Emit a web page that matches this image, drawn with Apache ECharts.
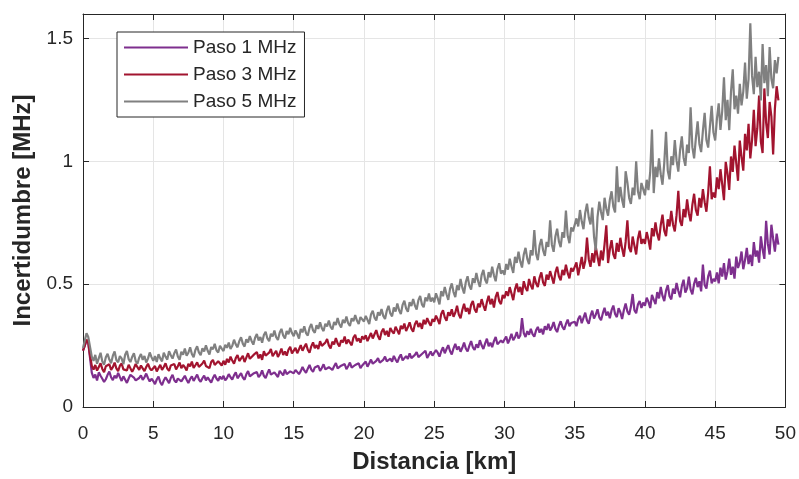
<!DOCTYPE html>
<html>
<head>
<meta charset="utf-8">
<script src="https://cdn.jsdelivr.net/npm/echarts@6/dist/echarts.min.js"></script>
<style>
html,body{margin:0;padding:0;background:#fff;}
#chart{width:799px;height:479px;}
</style>
</head>
<body>
<div id="chart"></div>
<script>
// Sampling step of the distance axis (km)
const stepKm = 0.125;
const seriesNames = ['Paso 1 MHz', 'Paso 3 MHz', 'Paso 5 MHz'];
const xTicks = [0, 5, 10, 15, 20, 25, 30, 35, 40, 45, 50];
const yTicks = [0, 0.5, 1, 1.5];

const paso1 = [
0.23,0.25,0.27,0.26,0.2,0.14,0.118,0.132,0.108,0.141,0.127,0.115,0.102,0.113,0.131,0.144,0.121,0.109,0.128,0.117,0.139,0.122,0.106,0.125,0.119,0.098,0.116,0.131,0.138,0.12,0.108,0.1,0.118,0.129,0.111,0.121,0.136,0.118,0.104,0.115,
0.106,0.093,0.112,0.124,0.101,0.089,0.108,0.121,0.113,0.097,0.118,0.131,0.109,0.1,0.116,0.123,0.104,0.112,0.127,0.111,0.098,0.114,0.125,0.106,0.119,0.132,0.112,0.103,0.117,0.128,0.108,0.121,0.114,0.099,0.118,0.131,0.116,0.107,0.124,0.113,
0.127,0.108,0.118,0.134,0.121,0.112,0.129,0.141,0.117,0.124,0.138,0.12,0.111,0.133,0.146,0.125,0.119,0.136,0.128,0.142,0.122,0.131,0.149,0.127,0.118,0.137,0.153,0.132,0.124,0.141,0.135,0.122,0.147,0.138,0.129,0.152,0.134,0.127,0.145,0.139,
0.137,0.151,0.158,0.134,0.146,0.163,0.149,0.139,0.156,0.171,0.152,0.143,0.161,0.155,0.168,0.147,0.159,0.174,0.153,0.145,0.162,0.17,0.151,0.166,0.179,0.157,0.149,0.168,0.161,0.175,0.154,0.166,0.181,0.16,0.152,0.171,0.164,0.178,0.158,0.169,
0.172,0.185,0.164,0.178,0.193,0.176,0.169,0.188,0.199,0.181,0.174,0.192,0.205,0.186,0.178,0.197,0.184,0.208,0.193,0.182,0.201,0.214,0.19,0.185,0.207,0.196,0.218,0.199,0.191,0.212,0.224,0.203,0.195,0.216,0.208,0.229,0.2,0.213,0.226,0.209,
0.214,0.232,0.221,0.205,0.227,0.243,0.219,0.236,0.252,0.228,0.214,0.239,0.257,0.233,0.246,0.225,0.241,0.262,0.238,0.226,0.249,0.268,0.243,0.232,0.255,0.241,0.272,0.251,0.236,0.259,0.278,0.247,0.262,0.244,0.268,0.285,0.255,0.247,0.271,0.262,
0.268,0.287,0.259,0.276,0.298,0.272,0.284,0.305,0.279,0.291,0.362,0.301,0.285,0.309,0.294,0.318,0.297,0.286,0.312,0.326,0.303,0.318,0.296,0.329,0.314,0.339,0.312,0.324,0.346,0.318,0.305,0.331,0.349,0.326,0.315,0.338,0.356,0.329,0.342,0.334,
0.347,0.329,0.358,0.372,0.341,0.363,0.384,0.352,0.339,0.371,0.392,0.36,0.376,0.398,0.365,0.353,0.381,0.404,0.372,0.388,0.361,0.394,0.413,0.379,0.366,0.402,0.386,0.358,0.395,0.421,0.389,0.376,0.408,0.46,0.394,0.382,0.417,0.432,0.403,0.425,
0.412,0.445,0.428,0.403,0.456,0.437,0.419,0.468,0.442,0.489,0.452,0.431,0.474,0.496,0.451,0.438,0.482,0.461,0.505,0.473,0.447,0.492,0.518,0.466,0.483,0.531,0.478,0.459,0.502,0.526,0.488,0.512,0.471,0.58,0.497,0.482,0.532,0.555,0.503,0.521,
0.512,0.548,0.503,0.567,0.531,0.586,0.519,0.552,0.604,0.538,0.571,0.523,0.612,0.566,0.589,0.633,0.561,0.598,0.648,0.582,0.62,0.574,0.671,0.612,0.637,0.588,0.695,0.642,0.603,0.758,0.664,0.621,0.742,0.685,0.633,0.706,0.661
];

const paso3 = [
0.23,0.25,0.275,0.262,0.21,0.168,0.152,0.171,0.148,0.163,0.178,0.155,0.142,0.166,0.159,0.174,0.151,0.162,0.181,0.157,0.146,0.168,0.177,0.153,0.161,0.149,0.172,0.164,0.143,0.158,0.175,0.162,0.151,0.169,0.157,0.146,0.163,0.176,0.158,0.149,
0.154,0.167,0.145,0.159,0.172,0.151,0.163,0.178,0.156,0.147,0.169,0.161,0.175,0.153,0.166,0.181,0.158,0.171,0.162,0.149,0.176,0.165,0.185,0.159,0.17,0.182,0.163,0.155,0.177,0.189,0.167,0.174,0.158,0.183,0.192,0.171,0.164,0.186,0.178,0.169,
0.188,0.172,0.196,0.181,0.205,0.189,0.176,0.199,0.212,0.187,0.194,0.208,0.183,0.201,0.219,0.196,0.188,0.211,0.203,0.224,0.198,0.214,0.192,0.227,0.209,0.201,0.221,0.236,0.207,0.215,0.229,0.204,0.218,0.238,0.212,0.226,0.209,0.233,0.245,0.218,
0.226,0.241,0.219,0.235,0.252,0.229,0.244,0.258,0.233,0.221,0.247,0.263,0.239,0.252,0.236,0.268,0.249,0.241,0.262,0.277,0.251,0.238,0.266,0.255,0.281,0.259,0.246,0.272,0.263,0.287,0.257,0.274,0.266,0.251,0.283,0.294,0.268,0.279,0.262,0.288,
0.276,0.292,0.268,0.285,0.301,0.279,0.296,0.313,0.288,0.274,0.305,0.319,0.293,0.31,0.286,0.322,0.308,0.299,0.327,0.312,0.296,0.331,0.318,0.34,0.309,0.325,0.345,0.319,0.306,0.337,0.351,0.326,0.342,0.318,0.355,0.337,0.362,0.344,0.331,0.358,
0.347,0.372,0.356,0.338,0.379,0.394,0.365,0.351,0.386,0.372,0.398,0.367,0.384,0.412,0.376,0.361,0.395,0.42,0.389,0.403,0.378,0.416,0.432,0.398,0.385,0.421,0.406,0.439,0.414,0.392,0.427,0.453,0.418,0.44,0.405,0.448,0.468,0.431,0.419,0.456,
0.443,0.471,0.452,0.488,0.462,0.435,0.479,0.503,0.468,0.489,0.457,0.512,0.486,0.472,0.521,0.495,0.479,0.532,0.504,0.488,0.526,0.548,0.507,0.493,0.539,0.518,0.553,0.528,0.502,0.547,0.571,0.532,0.516,0.558,0.537,0.579,0.545,0.524,0.566,0.552,
0.548,0.589,0.536,0.572,0.611,0.563,0.594,0.69,0.602,0.571,0.626,0.588,0.653,0.612,0.574,0.637,0.597,0.662,0.74,0.586,0.641,0.679,0.621,0.603,0.668,0.632,0.689,0.645,0.612,0.672,0.76,0.648,0.631,0.694,0.657,0.621,0.685,0.718,0.664,0.683,
0.664,0.712,0.682,0.641,0.728,0.695,0.752,0.704,0.678,0.741,0.783,0.718,0.696,0.764,0.735,0.798,0.742,0.715,0.781,0.88,0.758,0.737,0.806,0.772,0.845,0.789,0.756,0.823,0.868,0.802,0.779,0.851,0.812,0.887,0.834,0.795,0.872,0.98,0.846,0.873,
0.852,0.935,0.887,0.968,0.906,0.842,0.998,0.951,0.884,1.02,0.957,1.064,0.993,0.921,1.085,1.018,0.962,1.112,1.045,1.153,1.012,1.087,1.21,1.062,1.135,1.268,1.081,1.034,1.297,1.158,1.095,1.242,1.183,1.028,1.215,1.306,1.248
];

const paso5 = [
0.24,0.27,0.3,0.285,0.245,0.205,0.188,0.212,0.176,0.199,0.221,0.185,0.172,0.203,0.217,0.193,0.178,0.209,0.226,0.191,0.182,0.207,0.198,0.174,0.213,0.228,0.195,0.183,0.204,0.219,0.187,0.176,0.201,0.216,0.192,0.208,0.181,0.197,0.222,0.203,
0.188,0.207,0.183,0.215,0.198,0.186,0.221,0.205,0.193,0.227,0.211,0.197,0.219,0.234,0.206,0.192,0.225,0.213,0.238,0.209,0.221,0.243,0.216,0.203,0.232,0.247,0.222,0.211,0.239,0.226,0.251,0.229,0.214,0.244,0.235,0.257,0.231,0.222,0.249,0.238,
0.228,0.253,0.241,0.262,0.236,0.249,0.274,0.255,0.243,0.268,0.284,0.258,0.246,0.276,0.263,0.289,0.269,0.254,0.282,0.297,0.271,0.285,0.262,0.293,0.306,0.279,0.268,0.298,0.287,0.311,0.284,0.273,0.302,0.318,0.291,0.279,0.309,0.296,0.322,0.301,
0.288,0.312,0.297,0.279,0.318,0.304,0.329,0.301,0.291,0.322,0.338,0.312,0.302,0.333,0.318,0.345,0.321,0.309,0.339,0.328,0.352,0.326,0.316,0.346,0.334,0.362,0.337,0.324,0.355,0.342,0.368,0.341,0.33,0.361,0.349,0.374,0.352,0.338,0.366,0.359,
0.348,0.371,0.355,0.338,0.377,0.392,0.364,0.352,0.386,0.373,0.399,0.371,0.358,0.392,0.412,0.381,0.369,0.405,0.389,0.421,0.394,0.378,0.416,0.433,0.401,0.388,0.427,0.411,0.44,0.413,0.397,0.435,0.452,0.418,0.406,0.446,0.431,0.462,0.429,0.445,
0.426,0.463,0.442,0.418,0.472,0.451,0.489,0.459,0.436,0.481,0.503,0.468,0.447,0.495,0.476,0.521,0.486,0.462,0.509,0.532,0.494,0.478,0.524,0.505,0.546,0.512,0.489,0.537,0.558,0.518,0.503,0.549,0.528,0.571,0.536,0.512,0.562,0.585,0.543,0.556,
0.538,0.582,0.559,0.604,0.572,0.546,0.611,0.587,0.632,0.593,0.568,0.621,0.648,0.603,0.582,0.639,0.617,0.72,0.624,0.598,0.657,0.684,0.638,0.615,0.672,0.652,0.76,0.661,0.632,0.694,0.726,0.674,0.651,0.712,0.689,0.8,0.698,0.667,0.731,0.715,
0.712,0.768,0.735,0.802,0.756,0.724,0.791,0.828,0.772,0.743,0.812,0.694,0.638,0.773,0.836,0.794,0.761,0.852,0.807,0.779,0.843,0.878,0.816,0.792,0.98,0.834,0.896,0.843,0.811,0.96,0.914,0.851,0.827,0.893,0.862,1.0,0.878,0.846,0.912,0.887,
0.862,0.925,0.883,0.957,1.13,0.871,0.978,0.936,1.012,0.948,0.905,0.993,1.12,0.962,0.927,1.021,0.985,1.087,1.004,0.958,1.046,1.102,1.015,0.982,1.068,1.034,1.22,1.058,1.012,1.095,1.163,1.071,1.038,1.124,1.198,1.087,1.056,1.142,1.226,1.118,
1.085,1.174,1.236,1.128,1.205,1.342,1.168,1.251,1.127,1.283,1.375,1.212,1.268,1.194,1.316,1.228,1.284,1.402,1.255,1.335,1.562,1.348,1.274,1.426,1.302,1.365,1.248,1.478,1.318,1.392,1.265,1.465,1.336,1.298,1.412,1.358,1.425
];

const colors = ['#7E2F8E', '#A2142F', '#808080'];
const axisColor = '#262626';
const fontFam = '"Liberation Sans", Arial, Helvetica, sans-serif';

function pairs(vals) {
  return vals.map((v, i) => [i * stepKm, v]);
}

const chart = echarts.init(document.getElementById('chart'), null, {renderer: 'canvas'});
const baseX = {
  type: 'value', min: xTicks[0], max: xTicks[xTicks.length - 1], interval: 5,
  axisLine: {show: true, onZero: false, lineStyle: {color: axisColor, width: 1}},
  axisTick: {show: true, inside: true, length: 6, lineStyle: {color: axisColor}},
};
const baseY = {
  type: 'value', min: 0, max: 1.6, interval: 0.5,
  axisLine: {show: true, onZero: false, lineStyle: {color: axisColor, width: 1}},
  axisTick: {show: true, inside: true, length: 6, lineStyle: {color: axisColor}},
};

chart.setOption({
  animation: false,
  backgroundColor: '#fff',
  grid: {left: 83, right: 13, top: 14, bottom: 65, containLabel: false},
  legend: {
    data: seriesNames,
    orient: 'vertical',
    left: 117, top: 32,
    padding: [6, 8, 6, 6],
    itemGap: 8,
    itemWidth: 64, itemHeight: 19,
    backgroundColor: '#fff',
    borderColor: axisColor, borderWidth: 1,
    itemStyle: {opacity: 0},
    textStyle: {fontFamily: fontFam, fontSize: 19, color: axisColor}
  },
  xAxis: [
    Object.assign({}, baseX, {
      position: 'bottom',
      name: 'Distancia [km]', nameLocation: 'middle', nameGap: 43,
      nameTextStyle: {fontFamily: fontFam, fontSize: 24, fontWeight: 'bold', color: axisColor},
      axisLabel: {show: true, margin: 17, fontFamily: fontFam, fontSize: 19, color: axisColor},
      splitLine: {show: true, lineStyle: {color: '#e5e5e5', width: 1}}
    }),
    Object.assign({}, baseX, {
      position: 'top', axisLabel: {show: false}, splitLine: {show: false}
    })
  ],
  yAxis: [
    Object.assign({}, baseY, {
      position: 'left',
      name: 'Incertidumbre [MHz]', nameLocation: 'middle', nameGap: 43,
      nameTextStyle: {fontFamily: fontFam, fontSize: 24, fontWeight: 'bold', color: axisColor},
      axisLabel: {show: true, margin: 10, showMaxLabel: false, fontFamily: fontFam, fontSize: 19, color: axisColor,
        formatter: v => (yTicks.indexOf(Math.round(v * 10) / 10) >= 0 ? String(Math.round(v * 10) / 10) : '')},
      splitLine: {show: true, lineStyle: {color: '#e5e5e5', width: 1}}
    }),
    Object.assign({}, baseY, {
      position: 'right', axisLabel: {show: false}, splitLine: {show: false}
    })
  ],
  series: [paso1, paso3, paso5].map((vals, k) => ({
    name: seriesNames[k],
    type: 'line',
    xAxisIndex: 0, yAxisIndex: 0,
    data: pairs(vals),
    symbol: 'none',
    showSymbol: false,
    color: colors[k],
    lineStyle: {color: colors[k], width: 2.2},
    z: 2 + k
  }))
});
</script>
</body>
</html>
